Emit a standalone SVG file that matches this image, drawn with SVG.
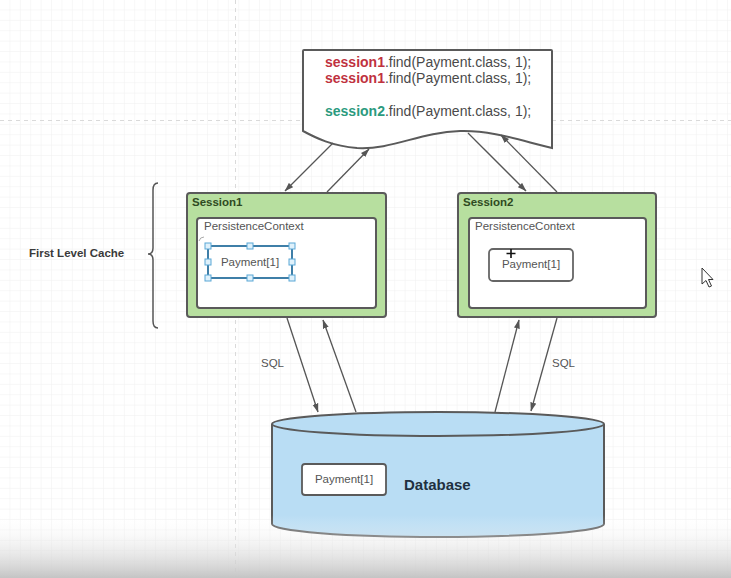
<svg xmlns="http://www.w3.org/2000/svg" width="731" height="578" viewBox="0 0 731 578">
<defs>
<pattern id="grid" width="10.4" height="10.4" patternUnits="userSpaceOnUse" x="0" y="0">
<path d="M10.4,0 V10.4 M0,10.4 H10.4" fill="none" stroke="#f0f0f0" stroke-width="1"/>
</pattern>
<linearGradient id="fade" x1="0" y1="0" x2="0" y2="1">
<stop offset="0" stop-color="#ffffff" stop-opacity="0"/>
<stop offset="1" stop-color="#c4c4c4" stop-opacity="1"/>
</linearGradient>
<marker id="ah" markerWidth="9" markerHeight="7" refX="8.5" refY="3.5" orient="auto" markerUnits="userSpaceOnUse">
<path d="M0,0.5 L9,3.5 L0,6.5 z" fill="#555"/>
</marker>
<style>
.box{stroke:#5a5a5a;stroke-width:2}
.session{fill:#b7df9f}
.inner{fill:#ffffff}
.t{font-family:"Liberation Sans",Arial,sans-serif}
.title{font-size:11.5px;font-weight:bold;fill:#2f4a22}
.pc{font-size:11.5px;fill:#555}
.pay{font-size:11.5px;fill:#555;text-anchor:middle}
.code{font-size:14px;fill:#4a4a4a}
.r{fill:#c0323f;font-weight:bold}
.g{fill:#2b9a7e;font-weight:bold}
.conn{stroke:#555;stroke-width:1.3;fill:none;marker-end:url(#ah)}
.sql{font-size:11.5px;fill:#555}
.h{fill:#dff1fb;stroke:#5aa7d6;stroke-width:1}
</style>
</defs>
<rect width="731" height="578" fill="#ffffff"/>
<rect width="731" height="578" fill="url(#grid)"/>
<line x1="0" y1="120.5" x2="731" y2="120.5" stroke="#dadada" stroke-width="1" stroke-dasharray="4,4"/>
<line x1="235.5" y1="0" x2="235.5" y2="578" stroke="#dadada" stroke-width="1" stroke-dasharray="4,4"/>

<g id="first-level-cache">
<path d="M158,183 Q153,183 153,190 L153,248 Q153,254 148,254 Q153,254 153,260 L153,321 Q153,328 158,328" fill="none" stroke="#555" stroke-width="1.5"/>
<text class="t" x="29" y="257" font-size="11.5" font-weight="bold" fill="#3a3a3a">First Level Cache</text>
</g>

<g id="code">
<path d="M304,50 H551 Q552,50 552,51 V148 C522,141 492,130 460,131 C420,132 392,150 357,148 C332,146 316,138 303,131 V51 Q303,50 304,50 Z" fill="#ffffff" stroke="#5a5a5a" stroke-width="2"/>
<text class="t code" x="325" y="67"><tspan class="r">session1</tspan>.find(Payment.class, 1);</text>
<text class="t code" x="325" y="83"><tspan class="r">session1</tspan>.find(Payment.class, 1);</text>
<text class="t code" x="325" y="116"><tspan class="g">session2</tspan>.find(Payment.class, 1);</text>
</g>

<g id="session1">
<rect class="box session" x="187" y="193" width="199" height="124" rx="3"/>
<text class="t title" x="192" y="206">Session1</text>
<rect class="box inner" x="197" y="218" width="179" height="90" rx="3"/>
<text class="t pc" x="204" y="230">PersistenceContext</text>
<path d="M199,241 Q200,237 204,237" fill="none" stroke="#aaa" stroke-width="1"/>
<g id="session1-payment">
<rect x="208" y="246" width="84" height="32" fill="#ffffff" stroke="#3f7fa8" stroke-width="2"/>
<text class="t pay" x="250" y="266">Payment[1]</text>
<rect class="h" x="205" y="243" width="6" height="6"/>
<rect class="h" x="247" y="243" width="6" height="6"/>
<rect class="h" x="289" y="243" width="6" height="6"/>
<rect class="h" x="205" y="259" width="6" height="6"/>
<rect class="h" x="289" y="259" width="6" height="6"/>
<rect class="h" x="205" y="275" width="6" height="6"/>
<rect class="h" x="247" y="275" width="6" height="6"/>
<rect class="h" x="289" y="275" width="6" height="6"/>
</g>
</g>

<g id="session2">
<rect class="box session" x="458" y="193" width="198" height="124" rx="3"/>
<text class="t title" x="463" y="206">Session2</text>
<rect class="box inner" x="469" y="218" width="177" height="90" rx="3"/>
<text class="t pc" x="475" y="230">PersistenceContext</text>
<g id="session2-payment">
<rect x="489" y="249" width="84" height="32" rx="4" fill="#ffffff" stroke="#666" stroke-width="1.8"/>
<text class="t pay" x="531" y="268">Payment[1]</text>
</g>
<path d="M511,249 V258 M506.5,253.5 H515.5" stroke="#111" stroke-width="1.6"/>
</g>

<g id="database">
<path d="M272,424 V524 A166,13 0 0 0 604,524 V424" fill="#b9ddf4" stroke="#5a5a5a" stroke-width="2"/>
<ellipse cx="438" cy="424" rx="166" ry="12" fill="#b9ddf4" stroke="#5a5a5a" stroke-width="2"/>
<g id="database-payment">
<rect x="302" y="464" width="84" height="31" rx="3" fill="#ffffff" stroke="#5a5a5a" stroke-width="1.8"/>
<text class="t pay" x="344" y="483">Payment[1]</text>
</g>
<text class="t" x="404" y="490" font-size="15" font-weight="bold" fill="#1f3040">Database</text>
</g>

<g id="connectors">
<line class="conn" x1="333" y1="143" x2="285" y2="191"/>
<line class="conn" x1="327" y1="192" x2="369" y2="149"/>
<line class="conn" x1="468" y1="133" x2="526" y2="191"/>
<line class="conn" x1="557" y1="192" x2="501" y2="135"/>
<line class="conn" x1="287" y1="318" x2="318" y2="412"/>
<line class="conn" x1="356" y1="412" x2="323" y2="320"/>
<line class="conn" x1="495" y1="412" x2="519" y2="320"/>
<line class="conn" x1="557" y1="318" x2="531" y2="411"/>
<text class="t sql" x="261" y="367">SQL</text>
<text class="t sql" x="552" y="367">SQL</text>
</g>

<path d="M702,268 L702,284 L706,280.5 L709,287 L711.5,286 L708.5,279.5 L713,279.5 Z" fill="#ffffff" stroke="#333" stroke-width="1"/>
<rect x="0" y="515" width="731" height="63" fill="url(#fade)"/>
</svg>
